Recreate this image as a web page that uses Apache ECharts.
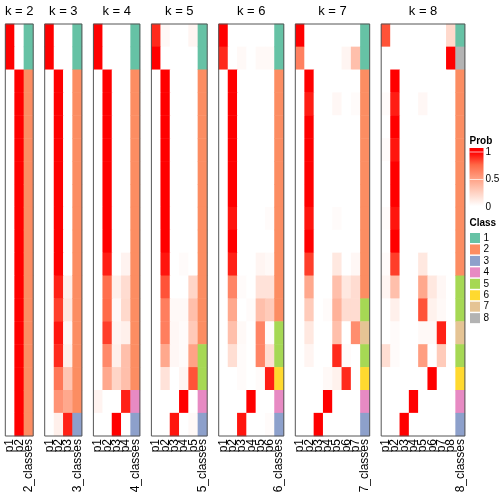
<!DOCTYPE html>
<html><head><meta charset="utf-8">
<script src="https://cdn.jsdelivr.net/npm/echarts@6/dist/echarts.min.js"></script>
<style>html,body{margin:0;padding:0;background:#fff}#c{width:504px;height:504px}</style>
</head><body><div id="c"></div>
<script>
// ---- data ----
const kValues = [2, 3, 4, 5, 6, 7, 8];
const classColors = ['#66C2A5', '#FC8D62', '#8DA0CB', '#E78AC3', '#A6D854', '#FFD92F', '#E5C494', '#B3B3B3'];
const classNames = ['1', '2', '3', '4', '5', '6', '7', '8'];
const probTicks = ['1', '0.5', '0'];

const probK2 = [
  [1,0],[1,0],
  [0,1],[0,1],[0,1],[0,1],[0,1],[0,1],[0,1],[0,1],
  [0,1],[0,1],[0,1],[0,1],[0,1],[0,1],[0,1],[0,1]
];
const classK2 = [1,1,2,2,2,2,2,2,2,2,2,2,2,2,2,2,2,2];

const probK3 = [
  [1,0,0],[1,0,0],
  [0,1,0],[0,1,0],[0,1,0],[0,1,0],[0,1,0],[0,1,0],[0,1,0],[0,1,0],[0,1,0],
  [0,0.92,0.08],[0,0.85,0.12],[0,0.95,0.04],[0,0.9,0.08],[0,0.68,0.3],[0,0.55,0.45],[0,0.08,0.92]
];
const classK3 = [1,1,2,2,2,2,2,2,2,2,2,2,2,2,2,2,2,3];

const probK4 = [
  [1,0,0,0],[1,0,0,0],
  [0,1,0,0],[0,1,0,0],[0,1,0,0],[0,1,0,0],[0,1,0,0],[0,1,0,0],[0,1,0,0],[0,1,0,0],
  [0,0.93,0,0.06],[0,0.72,0.08,0.18],[0,0.74,0.03,0.2],[0,0.85,0.05,0.08],
  [0,0.6,0.08,0.33],[0,0.45,0.22,0.33],[0.06,0,0,0.92],[0,0,1,0]
];
const classK4 = [1,1,2,2,2,2,2,2,2,2,2,2,2,2,2,2,4,3];

const probK5 = [
  [0.9,0.03,0,0,0.05],[1,0,0,0,0],
  [0,1,0,0,0],[0,1,0,0,0],[0,1,0,0,0],[0,1,0,0,0],[0,1,0,0,0],[0,1,0,0,0],[0,1,0,0,0],[0,1,0,0,0],
  [0,0.95,0,0.02,0],[0,0.8,0,0,0.22],[0,0.65,0.03,0.03,0.33],[0,0.65,0.04,0.02,0.28],
  [0,0.45,0.04,0.02,0.48],[0,0.15,0,0.05,0.8],[0,0,0,1,0],[0,0,0.95,0,0.03]
];
const classK5 = [1,1,2,2,2,2,2,2,2,2,2,2,2,2,5,5,4,3];

const probK6 = [
  [1,0,0,0,0,0],[0.9,0,0.03,0,0.03,0.03],
  [0,1,0,0,0,0],[0,1,0,0,0,0],[0,1,0,0,0,0],[0,1,0,0,0,0],[0,1,0,0,0,0],[0,1,0,0,0,0],
  [0,0.95,0,0,0,0.02],[0,1,0,0,0,0],
  [0,0.92,0,0,0.05,0.03],[0,0.62,0.02,0,0.15,0.15],[0,0.45,0,0.02,0.33,0.27],
  [0,0.33,0.03,0,0.62,0.02],[0,0.17,0.02,0,0.62,0.17],[0,0,0.02,0,0.02,0.93],
  [0,0,0,1,0,0],[0,0,0.95,0,0,0.02]
];
const classK6 = [1,1,2,2,2,2,2,2,2,2,2,2,2,5,5,6,4,3];

const probK7 = [
  [1,0,0,0,0,0,0],[0.64,0,0,0,0,0.05,0.33],
  [0,1,0,0,0,0,0],[0,0.93,0,0,0.04,0,0.02],[0,1,0,0,0,0,0],[0,1,0,0,0,0,0],
  [0,1,0,0,0,0,0],[0,1,0,0,0,0,0],[0,0.95,0,0,0.02,0,0],[0,1,0,0,0,0,0],
  [0,0.85,0,0,0.12,0,0.04],[0,0.45,0,0,0.33,0.12,0.18],[0,0.27,0,0.02,0.4,0.18,0.18],
  [0,0.12,0,0,0.33,0,0.58],[0,0.05,0,0,0.9,0.02,0],[0,0,0,0.03,0.07,0.9,0],
  [0,0,0,1,0,0,0],[0,0,1,0,0,0,0]
];
const classK7 = [1,1,2,2,2,2,2,2,2,2,2,2,5,7,5,6,4,3];

const probK8 = [
  [0.8,0,0,0,0,0,0,0.2],[0,0,0,0,0,0,0,1],
  [0,1,0,0,0,0,0,0],[0.02,0.93,0,0,0.04,0,0,0],[0,1,0,0,0,0,0,0],[0.02,0.95,0,0,0,0,0,0],
  [0,1,0,0,0,0,0,0],[0,1,0,0,0,0,0,0],[0.02,0.95,0,0,0,0,0,0],[0,1,0,0,0,0,0,0],
  [0.02,0.85,0,0,0.12,0,0,0],[0.05,0.33,0,0,0.45,0.12,0.04,0],[0,0.08,0,0,0.8,0.07,0.03,0],
  [0,0.02,0,0,0.03,0.03,0.92,0],[0.17,0.02,0,0,0.5,0,0.27,0],[0,0,0,0,0,1,0,0],
  [0,0,0,1,0,0,0,0],[0,0,1,0,0,0,0,0]
];
const classK8 = [1,8,2,2,2,2,2,2,2,2,2,5,5,7,5,6,4,3];

const probs = [probK2, probK3, probK4, probK5, probK6, probK7, probK8];
const classes = [classK2, classK3, classK4, classK5, classK6, classK7, classK8];

// ---- layout ----
const startX = 5.3, colW = 9.3, gapX = 11.5, gridTop = 24, gridH = 412;
const nRows = 18;
const rowCats = Array.from({length: nRows}, (_, i) => 'r' + (i + 1));
const probColors = ['#FFFFFF', '#FFCFBF', '#FF9E81', '#FF6846', '#FF0000'];
const FONT = 'Liberation Sans, Arial, Helvetica, sans-serif';

const grids = [], xAxes = [], yAxes = [], probSeries = [], classSeries = [], graphics = [];
let px = startX;
kValues.forEach((k, i) => {
  const w = colW * (k + 1);
  grids.push({left: px, top: gridTop, width: w, height: gridH, containLabel: false});
  const cats = [];
  for (let j = 1; j <= k; j++) cats.push('p' + j);
  cats.push(k + '_classes');
  xAxes.push({
    type: 'category', gridIndex: i, data: cats, position: 'bottom',
    axisLine: {show: false}, axisTick: {show: false}, splitLine: {show: false},
    axisLabel: {interval: 0, rotate: 90, margin: 3, fontSize: 12, color: '#000', fontFamily: FONT}
  });
  yAxes.push({type: 'category', gridIndex: i, data: rowCats, inverse: true, show: false});
  const pdata = [];
  probs[i].forEach((row, r) => row.forEach((v, c) => pdata.push([c, r, v])));
  probSeries.push({type: 'heatmap', xAxisIndex: i, yAxisIndex: i, data: pdata, progressive: 0,
    emphasis: {disabled: true}, itemStyle: {borderWidth: 0}});
  const cdata = classes[i].map((v, r) => [k, r, v]);
  classSeries.push({type: 'heatmap', xAxisIndex: i, yAxisIndex: i, data: cdata, progressive: 0,
    emphasis: {disabled: true}, itemStyle: {borderWidth: 0}});
  graphics.push({type: 'rect', shape: {x: px, y: gridTop, width: w, height: gridH}, z: 100,
    style: {fill: 'none', stroke: '#555', lineWidth: 1}});
  graphics.push({type: 'text', x: px + w / 2, y: 11, z: 100,
    style: {text: 'k = ' + k, fill: '#000', font: '13px ' + FONT, textAlign: 'center', textVerticalAlign: 'middle'}});
  px += w + gapX;
});

// legend: Prob
const lx = 469.5;
graphics.push({type: 'text', x: lx, y: 141, style: {text: 'Prob', fill: '#000', font: 'bold 10px ' + FONT, textVerticalAlign: 'middle'}});
graphics.push({type: 'rect', shape: {x: lx, y: 148, width: 14, height: 60},
  style: {fill: {type: 'linear', x: 0, y: 0, x2: 0, y2: 1, colorStops: [
    {offset: 0, color: '#FF0000'}, {offset: 0.07, color: '#FF0000'}, {offset: 0.28, color: '#FF6846'},
    {offset: 0.5, color: '#FF9E81'}, {offset: 0.73, color: '#FFCFBF'}, {offset: 0.97, color: '#FFFFFF'}, {offset: 1, color: '#FFFFFF'}]}}});
[152, 179.5, 207].forEach((yy, j) => {
  graphics.push({type: 'line', shape: {x1: lx, y1: yy, x2: lx + 14, y2: yy}, style: {stroke: 'rgba(255,255,255,0.7)', lineWidth: 1}});
  graphics.push({type: 'text', x: lx + 16, y: yy, style: {text: probTicks[j], fill: '#000', font: '10px ' + FONT, textVerticalAlign: 'middle'}});
});
// legend: Class
graphics.push({type: 'text', x: lx, y: 223, style: {text: 'Class', fill: '#000', font: 'bold 10px ' + FONT, textVerticalAlign: 'middle'}});
classNames.forEach((nm, j) => {
  const cy = 238 + 11.45 * j;
  graphics.push({type: 'rect', shape: {x: lx + 0.5, y: cy - 5, width: 10, height: 10}, style: {fill: classColors[j]}});
  graphics.push({type: 'text', x: lx + 14, y: cy, style: {text: nm, fill: '#000', font: '10px ' + FONT, textVerticalAlign: 'middle'}});
});

const chart = echarts.init(document.getElementById('c'), null, {renderer: 'canvas'});
chart.setOption({
  animation: false,
  backgroundColor: '#fff',
  textStyle: {fontFamily: FONT},
  grid: grids, xAxis: xAxes, yAxis: yAxes,
  visualMap: [
    {type: 'continuous', show: false, min: 0, max: 1, dimension: 2,
     seriesIndex: probSeries.map((_, i) => i), inRange: {color: probColors}},
    {type: 'piecewise', show: false, dimension: 2,
     seriesIndex: classSeries.map((_, i) => i + probSeries.length),
     pieces: classColors.map((c, j) => ({value: j + 1, color: c}))}
  ],
  series: probSeries.concat(classSeries),
  graphic: graphics
});
</script></body></html>
